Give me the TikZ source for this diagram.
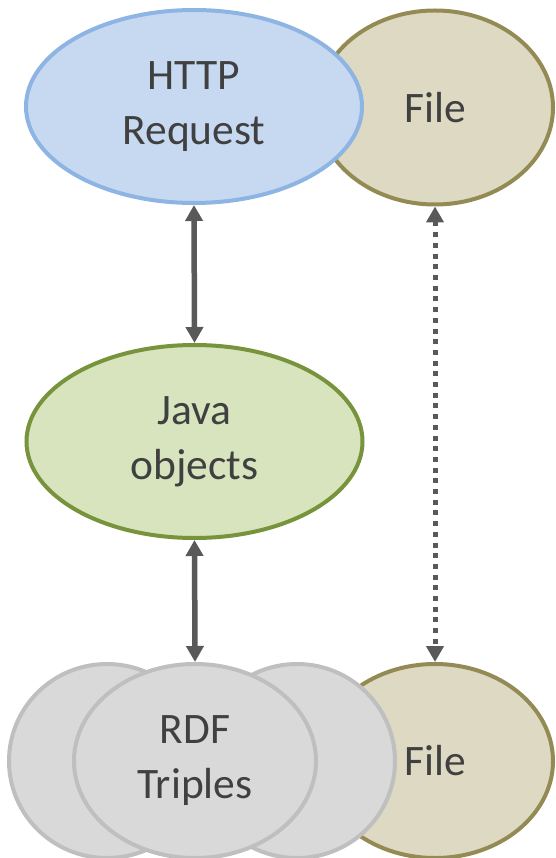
\documentclass[tikz,border=0pt]{standalone}
\usepackage{fontspec}
\setmainfont{Carlito}
\usetikzlibrary{shapes.geometric,arrows.meta}
\definecolor{txt}{HTML}{404040}
\definecolor{arrc}{HTML}{595959}
\definecolor{blueF}{HTML}{C6D9F1}
\definecolor{blueD}{HTML}{8DB4E2}
\definecolor{fileF}{HTML}{DDD9C3}
\definecolor{fileD}{HTML}{948A54}
\definecolor{greenF}{HTML}{D7E4BD}
\definecolor{greenD}{HTML}{77933C}
\definecolor{grayF}{HTML}{D9D9D9}
\definecolor{grayD}{HTML}{BFBFBF}
\tikzset{
  blob/.style={ellipse, line width=4pt, inner sep=0pt, align=center,
    text=txt, font=\fontsize{43.5}{55}\selectfont},
  wide/.style={blob, minimum width=336pt, minimum height=193pt},
  filebox/.style={blob, draw=fileD, fill=fileF, minimum width=236pt, minimum height=194pt},
  graybox/.style={blob, draw=grayD, fill=grayF, minimum height=194pt},
  solidarr/.style={draw=arrc, line width=5.5pt,
    {Triangle[width=17pt,length=16pt]}-{Triangle[width=17pt,length=16pt]}},
  dotarr/.style={draw=arrc, line width=5pt, dash pattern=on 5pt off 5.7pt,
    {Triangle[width=17pt,length=16pt]}-{Triangle[width=17pt,length=16pt]}}
}
\begin{document}
\begin{tikzpicture}[x=1pt,y=-1pt]
\useasboundingbox (0,0) rectangle (555,858);
% top row
\node[filebox] (filetop) at (435,107.5) {File};
\node[wide, draw=blueD, fill=blueF] (http) at (194,106.5) {HTTP\\Request};
% middle
\node[wide, draw=greenD, fill=greenF] (java) at (194.5,441.5) {Java\\objects};
% bottom row
\node[filebox] (filebot) at (435,761) {File};
\node[graybox, minimum width=196pt] (grayR) at (297,761) {};
\node[graybox, minimum width=196pt] (grayL) at (107,761) {};
\node[graybox, minimum width=242pt] (rdf) at (195,761) {RDF\\Triples};
% connectors
\draw[solidarr] (http.south) -- (java.north);
\draw[solidarr] (java.south) -- (rdf.north);
\draw[dotarr] (filetop.south) -- (filebot.north);
\end{tikzpicture}
\end{document}
